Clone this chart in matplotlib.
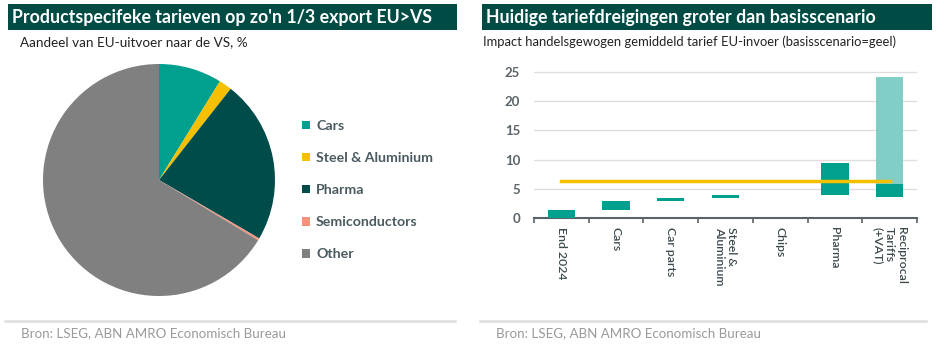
import numpy as np
import matplotlib
matplotlib.use("Agg")
import matplotlib.pyplot as plt
from matplotlib.patches import Rectangle, Patch
from matplotlib.lines import Line2D

plt.rcParams['font.family'] = ['Lato', 'DejaVu Sans']

# left chart: share of EU exports to US, %
pie_labels = ["Cars", "Steel & Aluminium", "Pharma", "Semiconductors", "Other"]
pie_values = [8.8, 1.8, 22.8, 0.3, 66.3]
pie_colors = ["#00A08F", "#F5C000", "#004C4A", "#F2937D", "#808080"]

# right chart: floating bars (from -> to), light part for reciprocal tariffs
categories = ["End 2024", "Cars", "Car parts", "Steel &\nAluminium", "Chips",
              "Pharma", "Reciprocal\nTariffs\n(+VAT)"]
bar_from = [0.0, 1.4, 3.0, 3.4, 3.9, 3.9, 3.6]
bar_to = [1.4, 3.0, 3.4, 3.9, 4.05, 9.5, 5.9]
extra_to = [0, 0, 0, 0, 0, 0, 24.1]
baseline = 6.4

W, H = 945, 350
fig = plt.figure(figsize=(W / 100, H / 100), dpi=100)
fig.patch.set_facecolor("white")


def box(x0, y0, x1, y1):
    # pixel coords (top-left origin) -> figure fraction rect
    return [x0 / W, 1 - y1 / H, (x1 - x0) / W, (y1 - y0) / H]


def fx(x):
    return x / W


def fy(y):
    return 1 - y / H


DARK = "#004C45"
TXT = "#3c4a4e"
GREY = "#9a9a9a"

# title bars
for (x0, x1, title) in [(8, 457, "Productspecifeke tarieven op zo'n 1/3 export EU>VS"),
                        (482, 932, "Huidige tariefdreigingen groter dan basisscenario")]:
    r = box(x0, 4, x1, 30)
    fig.add_artist(Rectangle((r[0], r[1]), r[2], r[3], transform=fig.transFigure,
                             facecolor=DARK, edgecolor="none"))
    fig.text(fx(x0 + 4), fy(17.5), title, color="white", fontsize=12.8,
             fontweight="bold", va="center", ha="left")

fig.text(fx(20), fy(42), "Aandeel van EU-uitvoer naar de VS, %", fontsize=9.7,
         color="#222222", va="center")
fig.text(fx(483), fy(42), "Impact handelsgewogen gemiddeld tarief EU-invoer (basisscenario=geel)",
         fontsize=9.4, color="#222222", va="center")

# footers
for (x0, x1) in [(5, 455), (480, 926)]:
    fig.add_artist(Line2D([fx(x0), fx(x1)], [fy(321), fy(321)], transform=fig.transFigure,
                          color="#dddddd", lw=1.8))
    fig.text(fx(x0 + 16), fy(333), "Bron: LSEG, ABN AMRO Economisch Bureau", fontsize=9.6,
             color=GREY, va="center")

# pie
cx, cy, rad = 159, 180, 116
ax1 = fig.add_axes(box(cx - rad, cy - rad, cx + rad, cy + rad))
ax1.pie(pie_values, colors=pie_colors, startangle=90, counterclock=False, radius=1,
        wedgeprops=dict(linewidth=0))
ax1.set_xlim(-1, 1)
ax1.set_ylim(-1, 1)
ax1.set_aspect("equal")
ax1.axis("off")

handles = [Patch(facecolor=c, edgecolor="none") for c in pie_colors]
fig.legend(handles, pie_labels, loc="upper left", bbox_to_anchor=(fx(302), fy(120)),
           frameon=False, handlelength=0.55, handleheight=0.55, handletextpad=0.45,
           labelspacing=1.42, borderpad=0, borderaxespad=0,
           prop=dict(size=10.2, weight="bold"), labelcolor="#4a5a60")

# bars
ax2 = fig.add_axes(box(534, 218.3 - 26 * 5.87, 917, 218.3))
x = np.arange(len(categories))
main_colors = ["#00A08F"] * len(categories)
main_colors[4] = "#BFE6E1"
ax2.bar(x, np.array(bar_to) - np.array(bar_from), bottom=bar_from, width=0.5,
        color=main_colors, zorder=3)
extra = np.array(extra_to) - np.array(bar_to)
extra[np.array(extra_to) == 0] = 0
ax2.bar(x, extra, bottom=bar_to, width=0.5, color="#80CEC6", zorder=3)
ax2.plot([x[0], x[-1]], [baseline, baseline], color="#F5C000", lw=2.5, zorder=4)

ax2.set_xlim(-0.5, len(categories) - 0.5)
ax2.set_ylim(0, 26)
ax2.set_yticks([0, 5, 10, 15, 20, 25])
ax2.grid(axis="y", color="#dedede", lw=1, zorder=0)
ax2.set_xticks(x)
ax2.set_xticklabels(categories, rotation=270, fontsize=8.8, color=TXT, ha="center",
                    va="top", multialignment="left", linespacing=1.1,
                    fontweight="semibold")
ax2.set_xticks(np.arange(-0.5, len(categories)), minor=True)
ax2.tick_params(axis="x", which="major", length=0, pad=6)
ax2.tick_params(axis="x", which="minor", length=3.5, width=1.2, color="#5a6468")
ax2.tick_params(axis="y", length=0, pad=10, labelsize=9.5, labelcolor="#5a6468")
for lab in ax2.get_yticklabels():
    lab.set_fontweight("bold")
for s in ["top", "right", "left"]:
    ax2.spines[s].set_visible(False)
ax2.spines["bottom"].set_color("#5a6468")
ax2.spines["bottom"].set_linewidth(1.5)

fig.savefig("out.png", dpi=100, facecolor="white")
